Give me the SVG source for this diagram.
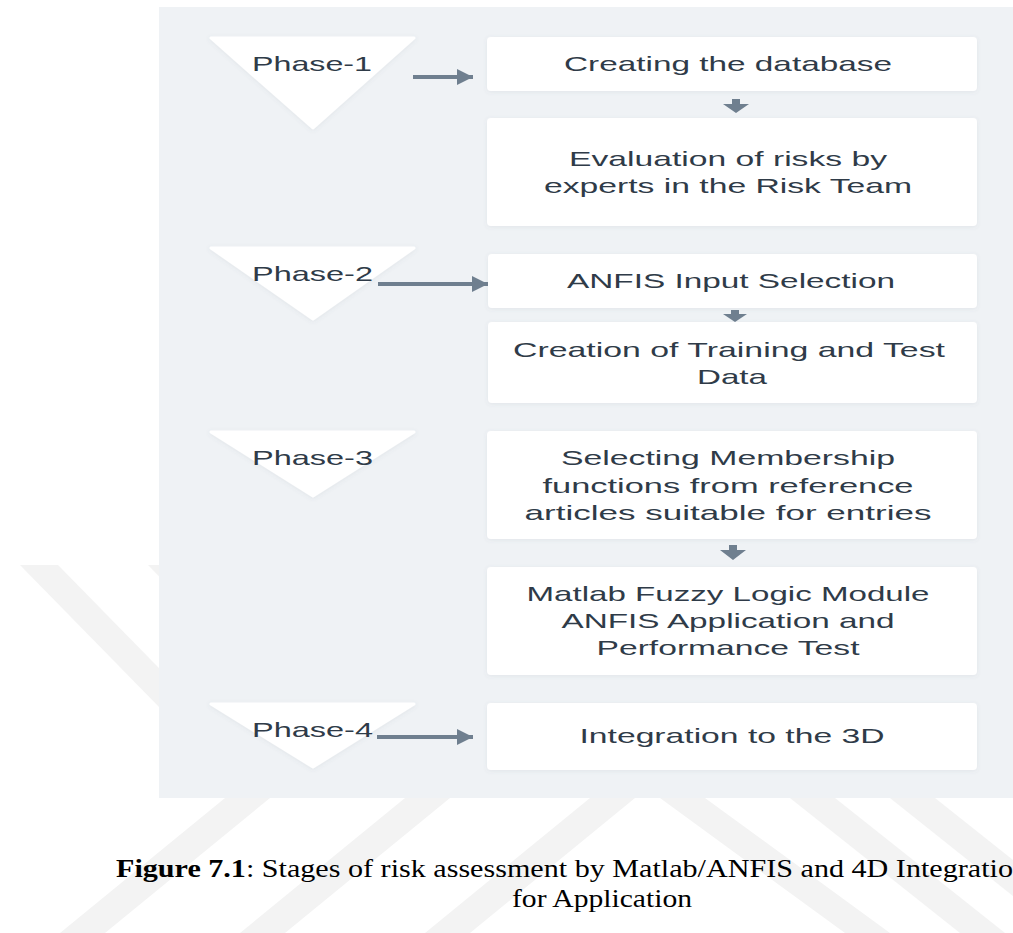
<svg xmlns="http://www.w3.org/2000/svg" width="1013" height="933" viewBox="0 0 1013 933">
<style>
.wm{fill:#f3f3f3}
.panel{fill:#eff2f5}
.box{fill:#ffffff;filter:url(#sh)}
.tri{fill:#ffffff;stroke:#ffffff;stroke-width:3;stroke-linejoin:round;filter:url(#sh)}
.lbl{font-family:"Liberation Sans",Arial,sans-serif;font-size:21px;fill:#2f3b48}
.conn{stroke:#6f7f8f;stroke-width:4;fill:none}
.down{fill:#6f7f8f}
.cap{font-family:"Liberation Serif","Times New Roman",serif;font-size:26px;fill:#000}
</style>
<defs>
<filter id="sh" x="-10%" y="-20%" width="120%" height="140%">
<feDropShadow dx="0" dy="1" stdDeviation="2" flood-color="#5a6a7a" flood-opacity="0.10"/>
</filter>
<marker id="ah" markerUnits="userSpaceOnUse" markerWidth="17" markerHeight="16" refX="16" refY="8" orient="auto">
<path d="M0,0 L16,8 L0,16 z" fill="#6f7f8f"/>
</marker>
</defs>
<rect width="1013" height="933" fill="#ffffff"/>
<g id="watermark">
<polygon class="wm" points="20,565 58,565 200,710 162,710"/>
<polygon class="wm" points="148,565 186,565 230,610 192,610"/>
<polygon class="wm" points="60,933 105,933 270,798 225,798"/>
<polygon class="wm" points="240,933 285,933 450,798 405,798"/>
<polygon class="wm" points="425,933 470,933 635,798 590,798"/>
<polygon class="wm" points="660,798 705,798 890,933 845,933"/>
<polygon class="wm" points="790,798 835,798 1005,933 960,933"/>
<polygon class="wm" points="890,798 935,798 1013,860 1013,896"/>
</g>
<rect class="panel" x="159" y="7" width="854" height="791"/>
<g id="phase1"><polygon class="tri" points="211,38 414,38 313,128"/><text class="lbl" x="252" y="71" textLength="120" lengthAdjust="spacingAndGlyphs">Phase-1</text></g>
<g id="phase2"><polygon class="tri" points="211,248 414,248 313,319"/><text class="lbl" x="252" y="281" textLength="121" lengthAdjust="spacingAndGlyphs">Phase-2</text></g>
<g id="phase3"><polygon class="tri" points="211,432 414,432 313,496"/><text class="lbl" x="252" y="465" textLength="121" lengthAdjust="spacingAndGlyphs">Phase-3</text></g>
<g id="phase4"><polygon class="tri" points="211,704 414,704 313,767"/><text class="lbl" x="252" y="737" textLength="121" lengthAdjust="spacingAndGlyphs">Phase-4</text></g>
<g id="box1"><rect class="box" x="487" y="37" width="490" height="54" rx="4"/><text class="lbl" x="728" y="71" text-anchor="middle" textLength="328" lengthAdjust="spacingAndGlyphs">Creating the database</text></g>
<g id="box2"><rect class="box" x="487" y="118" width="490" height="108" rx="4"/><text class="lbl" x="728" y="166" text-anchor="middle" textLength="318" lengthAdjust="spacingAndGlyphs">Evaluation of risks by</text><text class="lbl" x="728" y="193" text-anchor="middle" textLength="368" lengthAdjust="spacingAndGlyphs">experts in the Risk Team</text></g>
<g id="box3"><rect class="box" x="488" y="254" width="489" height="54" rx="4"/><text class="lbl" x="731" y="288" text-anchor="middle" textLength="328" lengthAdjust="spacingAndGlyphs">ANFIS Input Selection</text></g>
<g id="box4"><rect class="box" x="488" y="322" width="489" height="81" rx="4"/><text class="lbl" x="729" y="357" text-anchor="middle" textLength="432" lengthAdjust="spacingAndGlyphs">Creation of Training and Test</text><text class="lbl" x="732" y="384" text-anchor="middle" textLength="70" lengthAdjust="spacingAndGlyphs">Data</text></g>
<g id="box5"><rect class="box" x="487" y="431" width="490" height="108" rx="4"/><text class="lbl" x="728" y="465" text-anchor="middle" textLength="334" lengthAdjust="spacingAndGlyphs">Selecting Membership</text><text class="lbl" x="728" y="493" text-anchor="middle" textLength="371" lengthAdjust="spacingAndGlyphs">functions from reference</text><text class="lbl" x="728" y="520" text-anchor="middle" textLength="407" lengthAdjust="spacingAndGlyphs">articles suitable for entries</text></g>
<g id="box6"><rect class="box" x="487" y="567" width="490" height="108" rx="4"/><text class="lbl" x="728" y="601" text-anchor="middle" textLength="403" lengthAdjust="spacingAndGlyphs">Matlab Fuzzy Logic Module</text><text class="lbl" x="728" y="628" text-anchor="middle" textLength="333" lengthAdjust="spacingAndGlyphs">ANFIS Application and</text><text class="lbl" x="728" y="655" text-anchor="middle" textLength="263" lengthAdjust="spacingAndGlyphs">Performance Test</text></g>
<g id="box7"><rect class="box" x="487" y="703" width="490" height="67" rx="4"/><text class="lbl" x="732" y="743" text-anchor="middle" textLength="305" lengthAdjust="spacingAndGlyphs">Integration to the 3D</text></g>
<g id="connectors">
<line class="conn" x1="413" y1="77" x2="473" y2="77" marker-end="url(#ah)"/>
<line class="conn" x1="378" y1="284" x2="488" y2="284" marker-end="url(#ah)"/>
<line class="conn" x1="377" y1="737" x2="473" y2="737" marker-end="url(#ah)"/>
<polygon class="down" points="732,99 740,99 740,104 749,104 736,113 723,104 732,104"/>
<polygon class="down" points="731,310 739,310 739,314 747,314 735,322 723,314 731,314"/>
<polygon class="down" points="729,545 737,545 737,550 746,550 733,560 720,550 729,550"/>
</g>
<g id="caption">
<text class="cap" x="116" y="877" textLength="912" lengthAdjust="spacingAndGlyphs"><tspan font-weight="bold">Figure 7.1</tspan>: Stages of risk assessment by Matlab/ANFIS and 4D Integration</text>
<text class="cap" x="512" y="907" textLength="180" lengthAdjust="spacingAndGlyphs">for Application</text>
</g>
</svg>
